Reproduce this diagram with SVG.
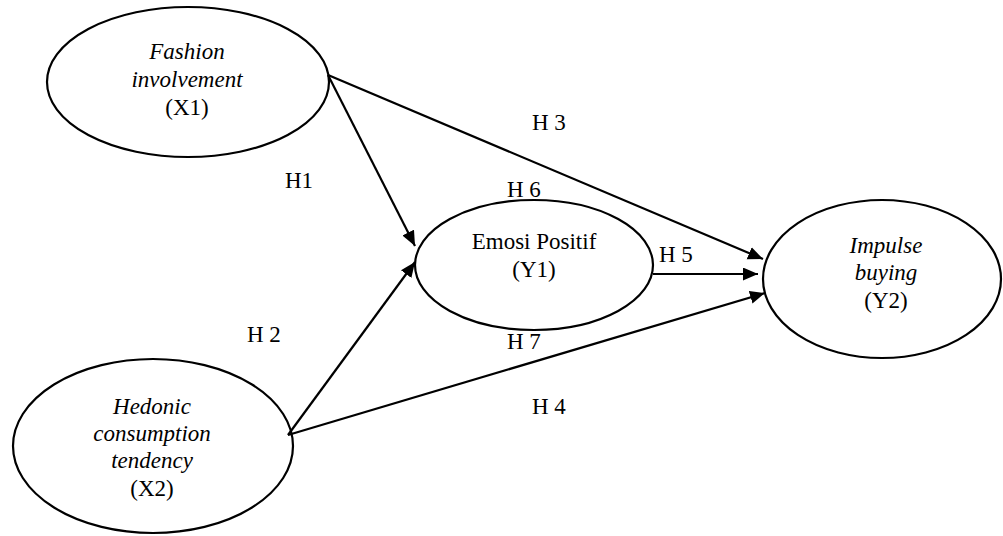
<svg xmlns="http://www.w3.org/2000/svg" width="1003" height="536" viewBox="0 0 1003 536">
<style>
.n{fill:#fff;stroke:#000;stroke-width:2.2}
.t{font-family:"Liberation Serif","Times New Roman",serif;font-size:23px;fill:#000;text-anchor:middle}
.i{font-style:italic}
.e{stroke:#000;stroke-width:2.2;fill:none;marker-end:url(#ah)}
.l{font-family:"Liberation Serif","Times New Roman",serif;font-size:23px;fill:#000}
</style>
<defs>
<marker id="ah" markerUnits="userSpaceOnUse" markerWidth="16" markerHeight="14" refX="15" refY="6.5" orient="auto">
<path d="M0,0 L15,6.5 L0,13 z" fill="#000"/>
</marker>
</defs>
<rect width="1003" height="536" fill="#fff"/>
<g id="X1">
<ellipse class="n" cx="188" cy="82" rx="141" ry="75"/>
<text class="t i" x="187" y="59">Fashion</text>
<text class="t i" x="187" y="87">involvement</text>
<text class="t" x="187" y="115">(X1)</text>
</g>
<g id="X2">
<ellipse class="n" cx="153" cy="446" rx="140" ry="87"/>
<text class="t i" x="152" y="414">Hedonic</text>
<text class="t i" x="152" y="441">consumption</text>
<text class="t i" x="152" y="468">tendency</text>
<text class="t" x="152" y="496">(X2)</text>
</g>
<g id="Y1">
<ellipse class="n" cx="534" cy="265" rx="119" ry="65"/>
<text class="t" x="534" y="249">Emosi Positif</text>
<text class="t" x="534" y="277">(Y1)</text>
</g>
<g id="Y2">
<ellipse class="n" cx="882" cy="279" rx="119" ry="79"/>
<text class="t i" x="886" y="253">Impulse</text>
<text class="t i" x="886" y="280">buying</text>
<text class="t" x="886" y="308">(Y2)</text>
</g>
<g id="connectors">
<line class="e" x1="328" y1="75" x2="415" y2="246"/>
<line class="e" x1="328" y1="75" x2="763" y2="259"/>
<line class="e" x1="288" y1="435" x2="415" y2="262"/>
<line class="e" x1="288" y1="435" x2="765" y2="293"/>
<line class="e" x1="653" y1="274" x2="758" y2="274"/>
</g>
<g id="labels">
<text class="l" x="285" y="188">H1</text>
<text class="l" x="247" y="342">H 2</text>
<text class="l" x="532" y="130">H 3</text>
<text class="l" x="532" y="414">H 4</text>
<text class="l" x="659" y="262">H 5</text>
<text class="l" x="507" y="197">H 6</text>
<text class="l" x="507" y="349">H 7</text>
</g>
</svg>
